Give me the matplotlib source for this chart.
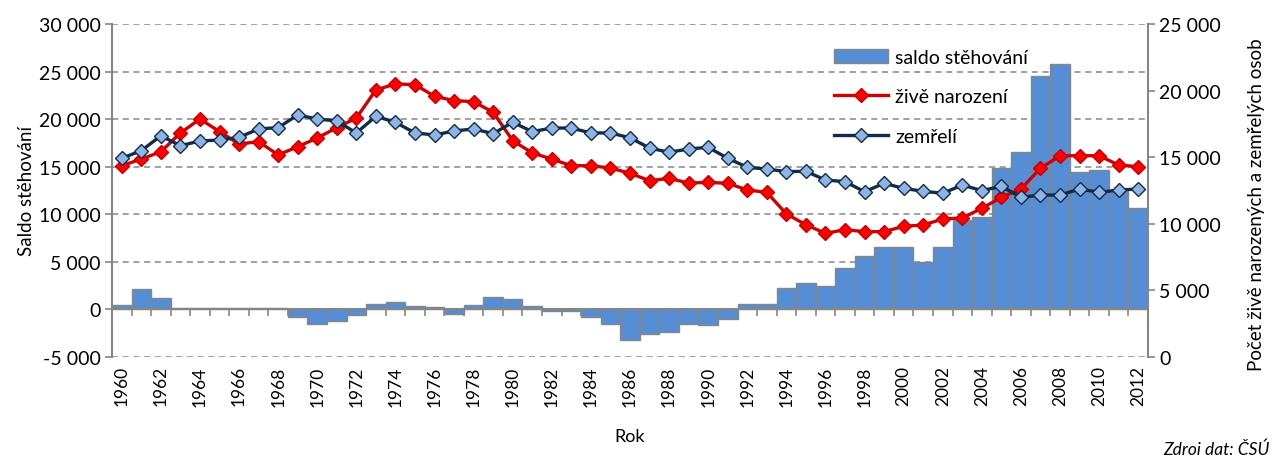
import matplotlib
matplotlib.use("Agg")
import matplotlib.pyplot as plt
from matplotlib.ticker import FuncFormatter, MultipleLocator
from matplotlib.patches import Patch
from matplotlib.lines import Line2D
import numpy as np

plt.rcParams['font.family'] = ['Lato', 'DejaVu Sans']

roky = list(range(1960, 2013))

# saldo stehovani (leva osa)
saldo = [420, 2100, 1230, 200, 200, 200, 200, 200, 150, -800,
         -1500, -1260, -630, 600, 810, 390, 210, -480, 420, 1260,
         1050, 390, -150, -200, -840, -1500, -3190, -2550, -2380, -1500,
         -1680, -1050, 600, 600, 2270, 2730, 2480, 4370, 5600, 6600,
         6600, 5000, 6600, 9400, 9750, 14900, 16500, 24500, 25800, 14400,
         14700, 12400, 10700]

# zive narozeni (prava osa)
narozeni = [14360, 14860, 15410, 16820, 17870, 16920, 15990, 16170, 15170, 15790,
            16440, 17220, 17940, 20050, 20500, 20450, 19570, 19250, 19170, 18370,
            16240, 15320, 14860, 14360, 14360, 14190, 13790, 13240, 13410, 13060,
            13110, 13040, 12540, 12360, 10740, 9930, 9280, 9560, 9410, 9410,
            9810, 9910, 10360, 10440, 11160, 11990, 12610, 14170, 15110, 15110,
            15110, 14410, 14290]

# zemreli (prava osa)
zemreli = [14920, 15490, 16610, 15860, 16220, 16290, 16490, 17120, 17220, 18170,
           17870, 17720, 16820, 18070, 17620, 16820, 16670, 16970, 17120, 16770,
           17620, 16920, 17190, 17190, 16820, 16820, 16460, 15690, 15370, 15620,
           15740, 14920, 14240, 14110, 13920, 13940, 13290, 13160, 12410, 13040,
           12660, 12440, 12290, 12910, 12490, 12820, 11990, 12160, 12160, 12610,
           12360, 12540, 12610]

seda = '#868686'
fmt = FuncFormatter(lambda v, p: f"{v:,.0f}".replace(",", " "))

fig = plt.figure(figsize=(12.75, 4.56), dpi=100)
ax = fig.add_axes([112/1275, 98/456, 1036/1275, 333/456])
ax2 = ax.twinx()

ax.bar(roky, saldo, width=1.0, color='#558ED5', edgecolor=seda, linewidth=1.0, zorder=2)
ax.set_ylim(-5000, 30000)
ax.set_xlim(1959.5, 2012.5)
ax.yaxis.set_major_locator(MultipleLocator(5000))
ax.yaxis.set_major_formatter(fmt)
ax.grid(axis='y', color=seda, linestyle=(0, (4, 3)), linewidth=1.1, zorder=0)
ax.set_axisbelow(True)

ax2.plot(roky, narozeni, color='#D00000', linewidth=2.4, marker='D', markersize=7,
         markerfacecolor='#FF0000', markeredgecolor='#C00000', zorder=3)
ax2.plot(roky, zemreli, color='#132B4A', linewidth=2.4, marker='D', markersize=7,
         markerfacecolor='#8DB4E2', markeredgecolor='#132B4A', zorder=4)
ax2.set_ylim(0, 25000)
ax2.yaxis.set_major_locator(MultipleLocator(5000))
ax2.yaxis.set_major_formatter(fmt)

for s in ['top', 'right']:
    ax.spines[s].set_visible(False)
for s in ['top', 'left', 'bottom']:
    ax2.spines[s].set_visible(False)
ax.spines['left'].set_color(seda)
ax.spines['left'].set_linewidth(1.5)
ax2.spines['right'].set_color(seda)
ax2.spines['right'].set_linewidth(1.5)

# osa x v nule s carkami mezi roky
ax.spines['bottom'].set_position(('data', 0))
ax.spines['bottom'].set_color(seda)
ax.spines['bottom'].set_linewidth(1.5)
ax.set_xticks([r - 0.5 for r in roky] + [2012.5], minor=True)
ax.set_xticks([])
ax.tick_params(axis='x', which='minor', length=5, color=seda, width=1.2)

sec = ax.secondary_xaxis('bottom')
sec.set_xticks(roky[::2])
sec.set_xticklabels([str(r) for r in roky[::2]], rotation=90, fontsize=12.5)
sec.tick_params(length=0, pad=6)
sec.spines['bottom'].set_visible(False)
sec.set_xlabel('Rok', fontsize=13, labelpad=16)

ax.tick_params(axis='y', length=5, color=seda, width=1.2, labelsize=14, pad=3)
ax2.tick_params(axis='y', length=5, color=seda, width=1.2, labelsize=14, pad=3)
ax.set_ylabel('Saldo stěhování', fontsize=13.5, labelpad=3)
ax2.set_ylabel('Počet živě narozených a zemřelých osob', fontsize=13.5)
ax2.yaxis.set_label_coords(1.097, 0.46)

handles = [Patch(facecolor='#558ED5', edgecolor=seda, linewidth=1.0),
           Line2D([], [], color='#D00000', linewidth=2.4, marker='D', markersize=7,
                  markerfacecolor='#FF0000', markeredgecolor='#C00000'),
           Line2D([], [], color='#132B4A', linewidth=2.4, marker='D', markersize=7,
                  markerfacecolor='#8DB4E2', markeredgecolor='#132B4A')]
ax2.legend(handles, ['saldo stěhování', 'živě narození', 'zemřelí'],
           loc='upper left', bbox_to_anchor=(0.68, 0.978), frameon=False,
           fontsize=14, labelspacing=1.15, handlelength=2.8, handletextpad=0.35)

fig.text(0.996, 0.018, 'Zdroj dat: ČSÚ', ha='right', va='center', fontsize=12.5, style='italic')

fig.savefig('out.png', dpi=100)
